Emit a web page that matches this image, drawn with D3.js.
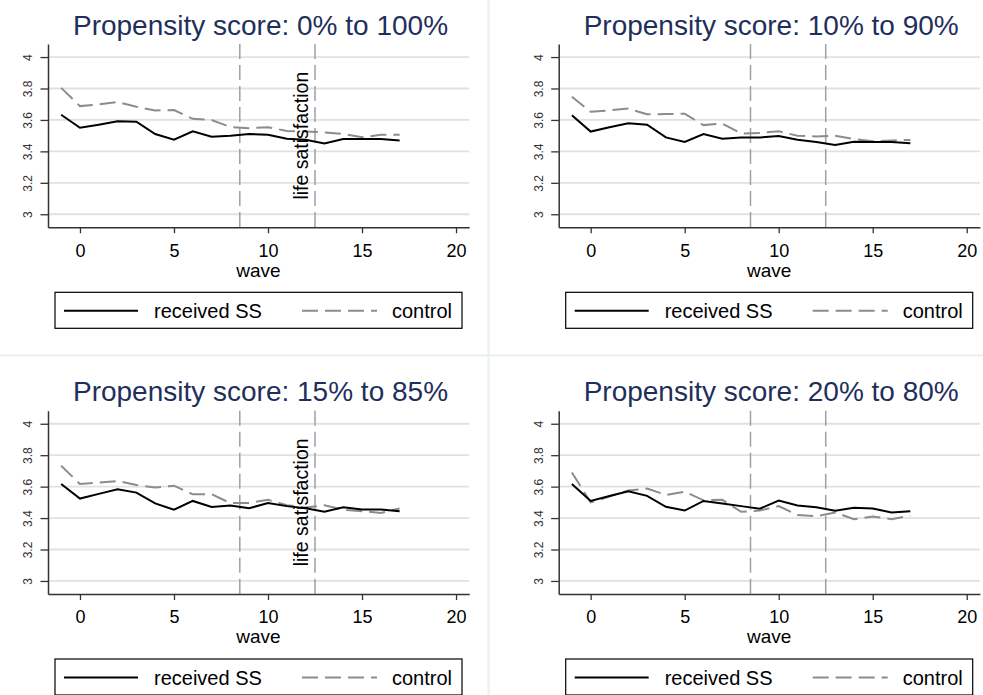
<!DOCTYPE html>
<html>
<head>
<meta charset="utf-8">
<script src="https://cdn.jsdelivr.net/npm/d3@7"></script>
<style>
  body { margin: 0; background: #fff; }
  svg { display: block; font-family: "Liberation Sans", Arial, sans-serif; }
</style>
</head>
<body>
<script>
// waves and y ticks
var waves = [-1, 0, 1, 2, 3, 4, 5, 6, 7, 8, 9, 10, 11, 12, 13, 14, 15, 16, 17];
var xTicks = [0, 5, 10, 15, 20];
var yTicks = [3, 3.2, 3.4, 3.6, 3.8, 4];
var refLines = [8.5, 12.5];

var titles = [
  "Propensity score: 0% to 100%",
  "Propensity score: 10% to 90%",
  "Propensity score: 15% to 85%",
  "Propensity score: 20% to 80%"
];

// mean life satisfaction by wave
var received0 = [3.633, 3.55, 3.57, 3.591, 3.589, 3.51, 3.474, 3.528, 3.493, 3.50, 3.51, 3.505, 3.48, 3.474, 3.45, 3.478, 3.478, 3.478, 3.469];
var control0  = [3.804, 3.688, 3.699, 3.714, 3.684, 3.66, 3.663, 3.607, 3.599, 3.555, 3.547, 3.554, 3.53, 3.526, 3.521, 3.51, 3.49, 3.505, 3.505];
var received10 = [3.63, 3.526, 3.553, 3.579, 3.57, 3.489, 3.46, 3.51, 3.481, 3.488, 3.488, 3.498, 3.474, 3.46, 3.44, 3.461, 3.46, 3.46, 3.452];
var control10  = [3.748, 3.652, 3.661, 3.672, 3.636, 3.637, 3.64, 3.567, 3.577, 3.514, 3.517, 3.528, 3.499, 3.495, 3.499, 3.478, 3.465, 3.469, 3.473];
var received15 = [3.617, 3.524, 3.554, 3.583, 3.562, 3.493, 3.453, 3.509, 3.471, 3.48, 3.463, 3.495, 3.476, 3.463, 3.44, 3.469, 3.455, 3.455, 3.444];
var control15  = [3.733, 3.617, 3.625, 3.636, 3.611, 3.594, 3.606, 3.551, 3.552, 3.495, 3.496, 3.516, 3.482, 3.467, 3.482, 3.453, 3.444, 3.433, 3.461];
var received20 = [3.617, 3.509, 3.54, 3.571, 3.541, 3.472, 3.448, 3.509, 3.492, 3.476, 3.46, 3.511, 3.48, 3.469, 3.446, 3.465, 3.461, 3.436, 3.444];
var control20  = [3.69, 3.5, 3.537, 3.575, 3.588, 3.547, 3.568, 3.513, 3.516, 3.44, 3.448, 3.476, 3.42, 3.412, 3.436, 3.393, 3.41, 3.393, 3.415];

var panels = [
  { title: titles[0], received: received0, control: control0, note: true, ox: 0, oy: 0 },
  { title: titles[1], received: received10, control: control10, note: false, ox: 510.7, oy: 0 },
  { title: titles[2], received: received15, control: control15, note: true, ox: 0, oy: 366.7 },
  { title: titles[3], received: received20, control: control20, note: false, ox: 510.7, oy: 366.7 }
];

var W = 983, H = 695;
var svg = d3.select("body").append("svg").attr("width", W).attr("height", H);

// faint panel separators
svg.append("line").attr("x1", 488.5).attr("x2", 488.5).attr("y1", 0).attr("y2", H)
  .attr("stroke", "#e9f0f2").attr("stroke-width", 2);
svg.append("line").attr("x1", 0).attr("x2", W).attr("y1", 355.5).attr("y2", 355.5)
  .attr("stroke", "#e9f0f2").attr("stroke-width", 2);

var x = d3.scaleLinear().domain([-1.7, 20.7]).range([48, 469.2]);
var y = d3.scaleLinear().domain([2.917, 4.083]).range([227.3, 44]);

panels.forEach(function(p) {
  var g = svg.append("g").attr("transform", "translate(" + p.ox + "," + p.oy + ")");

  // title
  g.append("text")
    .attr("x", 260.5).attr("y", 34.5)
    .attr("text-anchor", "middle")
    .style("font-size", "28px")
    .style("fill", "#1f2f5c")
    .text(p.title);

  // grid
  g.selectAll(".grid").data(yTicks).enter().append("line")
    .attr("x1", x.range()[0]).attr("x2", x.range()[1])
    .attr("y1", function(d) { return y(d); }).attr("y2", function(d) { return y(d); })
    .attr("stroke", "#e1e1e1").attr("stroke-width", 1.8);

  // reference lines
  g.selectAll(".xline").data(refLines).enter().append("line")
    .attr("x1", function(d) { return x(d); }).attr("x2", function(d) { return x(d); })
    .attr("y1", y.range()[1]).attr("y2", y.range()[0])
    .attr("stroke", "#a0a0a0").attr("stroke-width", 1.5)
    .attr("stroke-dasharray", "15,6");

  var line = d3.line()
    .x(function(d, i) { return x(waves[i]); })
    .y(function(d) { return y(d); });

  g.append("path").datum(p.control)
    .attr("d", line).attr("fill", "none")
    .attr("stroke", "#8c8c8c").attr("stroke-width", 2)
    .attr("stroke-dasharray", "16,7");

  g.append("path").datum(p.received)
    .attr("d", line).attr("fill", "none")
    .attr("stroke", "#000").attr("stroke-width", 2);

  if (p.note) {
    g.append("text")
      .attr("transform", "translate(" + x(12.15) + "," + y(3.5) + ") rotate(-90)")
      .attr("text-anchor", "middle")
      .style("font-size", "19.5px")
      .style("fill", "#000")
      .text("life satisfaction");
  }

  // y axis
  var ya = g.append("g").attr("transform", "translate(" + x.range()[0] + ",0)")
    .call(d3.axisLeft(y).tickValues(yTicks).tickSize(7.5).tickSizeOuter(0)
      .tickFormat(function(d) { return String(+d.toFixed(1)); }));
  ya.select(".domain").attr("stroke", "#333").attr("stroke-width", 1.5);
  ya.selectAll(".tick line").attr("stroke", "#333").attr("stroke-width", 1.3);
  ya.selectAll(".tick text")
    .attr("x", null).attr("dy", null)
    .attr("transform", "translate(-15.8,0) rotate(-90)")
    .attr("text-anchor", "middle")
    .style("font-size", "12px")
    .style("font-family", "Liberation Sans, Arial, sans-serif")
    .style("fill", "#333");

  // x axis
  var xa = g.append("g").attr("transform", "translate(0," + y.range()[0] + ")")
    .call(d3.axisBottom(x).tickValues(xTicks).tickSize(6).tickSizeOuter(0));
  xa.select(".domain").attr("stroke", "#333").attr("stroke-width", 1.5);
  xa.selectAll(".tick line").attr("stroke", "#333").attr("stroke-width", 1.3);
  xa.selectAll(".tick text")
    .attr("y", 29.4).attr("dy", null)
    .style("font-size", "18px")
    .style("font-family", "Liberation Sans, Arial, sans-serif")
    .style("fill", "#000");

  g.append("text")
    .attr("x", 258.5).attr("y", 276.5)
    .attr("text-anchor", "middle")
    .style("font-size", "19px")
    .text("wave");

  // legend
  var lg = g.append("g").attr("transform", "translate(55,292.3)");
  lg.append("rect").attr("width", 407).attr("height", 36)
    .attr("fill", "#fff").attr("stroke", "#000").attr("stroke-width", 1.2);
  lg.append("line").attr("x1", 9).attr("x2", 83).attr("y1", 18.4).attr("y2", 18.4)
    .attr("stroke", "#000").attr("stroke-width", 2);
  lg.append("text").attr("x", 99).attr("y", 25.8)
    .style("font-size", "20px").text("received SS");
  lg.append("line").attr("x1", 247).attr("x2", 322).attr("y1", 18.4).attr("y2", 18.4)
    .attr("stroke", "#8c8c8c").attr("stroke-width", 2)
    .attr("stroke-dasharray", "16,7");
  lg.append("text").attr("x", 337).attr("y", 25.8)
    .style("font-size", "20px").text("control");
});
</script>
</body>
</html>
